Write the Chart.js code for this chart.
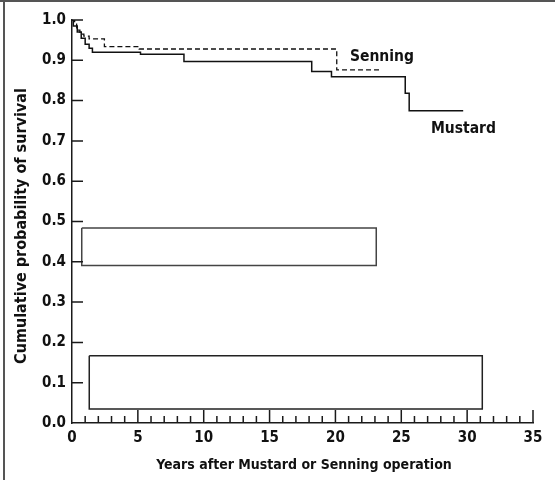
<!DOCTYPE html>
<html><head><meta charset="utf-8">
<script src="https://cdn.jsdelivr.net/npm/chart.js@4.4.0/dist/chart.umd.min.js"></script>
<style>html,body{margin:0;padding:0;background:#fff}#wrap{width:555px;height:480px;position:relative}</style>
</head><body><div id="wrap"><canvas id="c" width="555" height="480"></canvas></div>
<script>
// ---- data ----
const mustardYears = [0, 0.1, 0.4, 0.7, 1.0, 1.3, 1.55, 5.2, 8.5, 18.2, 19.7, 25.3, 25.6, 29.7];
const mustardSurv  = [1.0, 0.985, 0.97, 0.955, 0.94, 0.93, 0.92, 0.915, 0.897, 0.872, 0.859, 0.818, 0.775, 0.775];
const senningYears = [0, 0.2, 0.35, 0.6, 0.9, 1.3, 2.46, 5.1, 20.1, 23.4];
const senningSurv  = [1.0, 0.99, 0.975, 0.965, 0.96, 0.953, 0.934, 0.928, 0.876, 0.876];
const box1X = [0.74, 23.1, 23.1, 0.74, 0.74];
const box1Y = [0.484, 0.484, 0.391, 0.391, 0.484];
const box2X = [1.31, 31.15, 31.15, 1.31, 1.31];
const box2Y = [0.167, 0.167, 0.035, 0.035, 0.167];
const xTickValues = [0,1,2,3,4,5,6,7,8,9,10,11,12,13,14,15,16,17,18,19,20,21,22,23,24,25,26,27,28,29,30,31,32,33,34,35];
const yTickValues = [0.1,0.2,0.3,0.4,0.5,0.6,0.7,0.8,0.9,1.0];
const seriesLabels = ['Senning', 'Mustard'];
const seriesLabelX = [21.1, 27.25];
const seriesLabelY = [0.908, 0.73];
const xTitle = 'Years after Mustard or Senning operation';
const yTitle = 'Cumulative probability of survival';

const FONT = "'Liberation Sans Narrow','DejaVu Sans Condensed','Liberation Sans',sans-serif";
const pts = (xs, ys) => xs.map((v, i) => ({x: v, y: ys[i]}));

const deco = {
  id: 'deco',
  beforeDraw(chart) {
    const ctx = chart.ctx;
    ctx.save();
    ctx.strokeStyle = '#555';
    ctx.lineWidth = 2;
    ctx.beginPath();
    ctx.moveTo(0, 1); ctx.lineTo(555, 1);
    ctx.moveTo(4, 0); ctx.lineTo(4, 480);
    ctx.stroke();
    ctx.restore();
  },
  afterDraw(chart) {
    const {ctx, scales: {x, y}} = chart;
    ctx.save();
    ctx.strokeStyle = '#1a1a1a';
    ctx.lineWidth = 1.5;
    const y0 = y.getPixelForValue(0);
    const x0 = x.getPixelForValue(0);
    ctx.beginPath();
    xTickValues.forEach(v => {
      if (v === 0) return;
      const px = x.getPixelForValue(v);
      ctx.moveTo(px, y0);
      ctx.lineTo(px, y0 - (v % 5 === 0 ? 13 : 7));
    });
    yTickValues.forEach(v => {
      const py = y.getPixelForValue(v);
      ctx.moveTo(x0, py);
      ctx.lineTo(x0 + 11, py);
    });
    ctx.stroke();
    ctx.fillStyle = '#111';
    ctx.font = 'bold 15.5px ' + FONT;
    ctx.textAlign = 'left';
    ctx.textBaseline = 'middle';
    seriesLabels.forEach((t, i) => {
      ctx.fillText(t, x.getPixelForValue(seriesLabelX[i]), y.getPixelForValue(seriesLabelY[i]));
    });
    ctx.font = 'bold 14px ' + FONT;
    ctx.textAlign = 'center';
    ctx.fillText(xTitle, 304, 465);
    ctx.font = 'bold 16px ' + FONT;
    ctx.translate(22, 226);
    ctx.rotate(-Math.PI / 2);
    ctx.fillText(yTitle, 0, 0);
    ctx.restore();
  }
};

new Chart(document.getElementById('c'), {
  type: 'line',
  data: {
    datasets: [
      {label: 'Mustard', data: pts(mustardYears, mustardSurv), stepped: 'before', borderColor: '#111', borderWidth: 1.5, pointRadius: 0, fill: false},
      {label: 'Senning', data: pts(senningYears, senningSurv), stepped: 'before', borderColor: '#111', borderWidth: 1.3, borderDash: [5, 3], pointRadius: 0, fill: false},
      {label: 'box1', data: pts(box1X, box1Y), borderColor: '#444', borderWidth: 1.5, pointRadius: 0, fill: false},
      {label: 'box2', data: pts(box2X, box2Y), borderColor: '#222', borderWidth: 1.5, pointRadius: 0, fill: false}
    ]
  },
  options: {
    responsive: false,
    animation: false,
    layout: {padding: {top: 20, right: 22, left: 0, bottom: 0}},
    plugins: {legend: {display: false}, tooltip: {enabled: false}},
    scales: {
      x: {
        type: 'linear', min: 0, max: 35,
        grid: {display: false, drawTicks: false},
        border: {display: true, color: '#1a1a1a', width: 1.5},
        ticks: {stepSize: 5, color: '#111', padding: 6, font: {family: FONT, size: 15, weight: 'bold'}, maxRotation: 0},
        afterFit(s) { s.height = 57; }
      },
      y: {
        type: 'linear', min: 0, max: 1,
        grid: {display: false, drawTicks: false},
        border: {display: true, color: '#1a1a1a', width: 1.5},
        ticks: {stepSize: 0.1, color: '#111', padding: 6, font: {family: FONT, size: 15, weight: 'bold'}, callback: v => v.toFixed(1)},
        afterFit(s) { s.width = 72; }
      }
    }
  },
  plugins: [deco]
});
</script></body></html>
